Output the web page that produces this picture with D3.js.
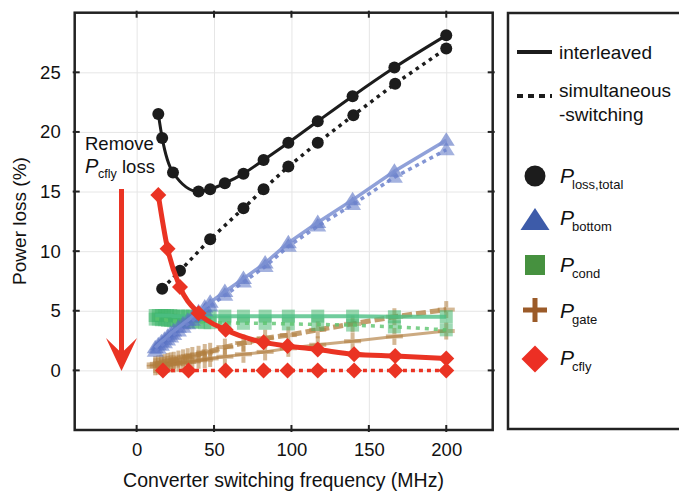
<!DOCTYPE html>
<html>
<head>
<meta charset="utf-8">
<script src="https://cdnjs.cloudflare.com/ajax/libs/d3/7.8.5/d3.min.js"></script>
<style>
  html, body { margin: 0; padding: 0; background: #fff; }
  svg { display: block; font-family: "Liberation Sans", Arial, sans-serif; }
</style>
</head>
<body>
<svg id="chart" width="679" height="491"></svg>
<script>
// ---------- data ----------
const xTicks = [0, 50, 100, 150, 200];
const yTicks = [0, 5, 10, 15, 20, 25];

const totalIntF = [14, 16.5, 23.5, 40, 47.5, 57, 69, 82, 98, 117, 139.5, 166.5, 200];
const totalIntP = [21.5, 19.5, 16.6, 15.0, 15.2, 15.7, 16.5, 17.65, 19.1, 20.9, 23.0, 25.4, 28.1];
const totalSimF = [16.5, 28, 47.5, 69, 82, 98, 117, 140, 167, 200];
const totalSimP = [6.85, 8.35, 11.0, 13.6, 15.2, 17.1, 19.1, 21.4, 24.05, 27.0];

const cflyIntF = [14, 20, 28, 40, 57.5, 82, 97.5, 117, 140.5, 167, 200];
const cflyIntP = [14.7, 10.2, 7.0, 4.8, 3.4, 2.35, 2.05, 1.75, 1.35, 1.2, 1.0];
const cflySimF = [17, 33.5, 57.5, 82, 97.5, 117, 140.5, 167, 200];
const cflySimP = [0, 0, 0, 0, 0, 0, 0, 0, 0];

const compF = [12, 14, 16, 18, 20, 22, 24, 27, 30, 33, 36, 40, 44, 47.5, 57, 69, 83, 98, 117, 139.5, 166.5, 200];
const bottomIntP = [1.9, 2.15, 2.4, 2.6, 2.85, 3.1, 3.3, 3.6, 3.9, 4.2, 4.5, 4.9, 5.3, 5.7, 6.6, 7.7, 9.0, 10.7, 12.4, 14.3, 16.7, 19.3];
const bottomSimP = [1.6, 1.85, 2.1, 2.3, 2.55, 2.8, 3.0, 3.3, 3.6, 3.9, 4.2, 4.6, 5.0, 5.4, 6.3, 7.4, 8.7, 10.4, 12.1, 13.9, 16.2, 18.5];
const condIntP = [4.6, 4.6, 4.6, 4.6, 4.6, 4.6, 4.55, 4.55, 4.55, 4.55, 4.55, 4.55, 4.55, 4.55, 4.55, 4.55, 4.55, 4.55, 4.55, 4.55, 4.5, 4.5];
const condSimP = [4.3, 4.3, 4.25, 4.25, 4.2, 4.2, 4.15, 4.15, 4.1, 4.1, 4.05, 4.05, 4.0, 4.0, 4.0, 3.95, 3.95, 3.9, 3.85, 3.8, 3.65, 3.4];
const gateSimP = [0.5, 0.55, 0.6, 0.65, 0.75, 0.8, 0.85, 0.95, 1.05, 1.15, 1.25, 1.35, 1.5, 1.6, 1.95, 2.3, 2.7, 2.96, 3.4, 3.9, 4.5, 5.1];
const gateIntP = [0.3, 0.35, 0.4, 0.45, 0.5, 0.55, 0.55, 0.6, 0.65, 0.7, 0.75, 0.85, 0.9, 1.0, 1.15, 1.35, 1.55, 1.85, 2.15, 2.45, 2.85, 3.3];

// ---------- layout ----------
const svg = d3.select("#chart");
const L = 74.7, R = 492.7, T = 12.7, B = 430;
const x = d3.scaleLinear().domain([-40, 230]).range([L, R]);
const y = d3.scaleLinear().domain([-5, 30]).range([B, T]);

const C = {
  black: "#1c1c1c",
  red: "#ea3323",
  blue: "#5a73c4",
  green: "#3fb66b",
  brown: "#b07d3e"
};

// grid
const grid = svg.append("g");
grid.append("g").attr("transform", `translate(0,${B})`)
  .call(d3.axisBottom(x).tickValues(xTicks).tickSize(-(B - T)).tickFormat(""))
  .call(g => g.select(".domain").remove())
  .call(g => g.selectAll("line").attr("stroke", "#e6e6e6").attr("stroke-width", 1));
grid.append("g").attr("transform", `translate(${L},0)`)
  .call(d3.axisLeft(y).tickValues(yTicks).tickSize(-(R - L)).tickFormat(""))
  .call(g => g.select(".domain").remove())
  .call(g => g.selectAll("line").attr("stroke", "#e6e6e6").attr("stroke-width", 1));

const plot = svg.append("g");
const zip = (fs, ps) => fs.map((f, i) => [f, ps[i]]);
const lineStraight = d3.line().x(d => x(d[0])).y(d => y(d[1]));
const lineSmooth = d3.line().x(d => x(d[0])).y(d => y(d[1])).curve(d3.curveMonotoneX);

function drawLine(data, opts) {
  plot.append("path").datum(data)
    .attr("d", opts.smooth ? lineSmooth : lineStraight)
    .attr("fill", "none")
    .attr("stroke", opts.color)
    .attr("stroke-width", opts.width)
    .attr("stroke-opacity", opts.opacity || 1)
    .attr("stroke-dasharray", opts.dash || null)
    .attr("stroke-linecap", "butt");
}

function drawMarkers(data, type, color, size, opacity) {
  const g = plot.append("g").attr("fill", color).attr("fill-opacity", opacity || 1);
  data.forEach(d => {
    const cx = x(d[0]), cy = y(d[1]);
    if (type === "circle") {
      g.append("circle").attr("cx", cx).attr("cy", cy).attr("r", size);
    } else if (type === "triangle") {
      const h = size * 0.9;
      g.append("path").attr("d", `M${cx},${cy - h * 0.6}L${cx + size / 2 + 1},${cy + h * 0.4}L${cx - size / 2 - 1},${cy + h * 0.4}Z`);
    } else if (type === "square") {
      g.append("rect").attr("x", cx - size / 2).attr("y", cy - size / 2).attr("width", size).attr("height", size);
    } else if (type === "diamond") {
      g.append("path").attr("d", `M${cx},${cy - size / 2}L${cx + size / 2},${cy}L${cx},${cy + size / 2}L${cx - size / 2},${cy}Z`);
    } else if (type === "plus") {
      const t = 4;
      g.append("rect").attr("x", cx - size / 2).attr("y", cy - t / 2).attr("width", size).attr("height", t);
      g.append("rect").attr("x", cx - t / 2).attr("y", cy - size / 2).attr("width", t).attr("height", size / 2 - t / 2);
      g.append("rect").attr("x", cx - t / 2).attr("y", cy + t / 2).attr("width", t).attr("height", size / 2 - t / 2);
    }
  });
}

// gate (brown)
drawMarkers(zip(compF, gateIntP), "plus", C.brown, 17, 0.55);
drawMarkers(zip(compF, gateSimP), "plus", C.brown, 17, 0.55);
drawLine(zip(compF, gateIntP), { color: C.brown, width: 3, opacity: 0.65 });
drawLine(zip(compF, gateSimP), { color: C.brown, width: 5, opacity: 0.75, dash: "10,4" });

// cond (green)
drawMarkers(zip(compF, condIntP), "square", C.green, 13, 0.55);
drawMarkers(zip(compF, condSimP), "square", C.green, 13, 0.5);
drawLine(zip(compF, condIntP), { color: "#4cbf85", width: 4, opacity: 0.8 });
drawLine(zip(compF, condSimP), { color: "#5cc46e", width: 3.5, opacity: 0.8, dash: "4,5" });

// bottom (blue)
drawMarkers(zip(compF, bottomIntP), "triangle", C.blue, 15, 0.62);
drawMarkers(zip(compF, bottomSimP), "triangle", C.blue, 15, 0.55);
drawLine(zip(compF, bottomIntP), { color: "#7d90d2", width: 3.5, opacity: 0.85 });
drawLine(zip(compF, bottomSimP), { color: "#6d82cc", width: 3.5, opacity: 0.85, dash: "4,4" });

// total (black)
drawLine(zip(totalIntF, totalIntP), { color: C.black, width: 3, smooth: true });
drawLine(zip(totalSimF, totalSimP), { color: C.black, width: 3.5, dash: "3.5,4.5" });
drawMarkers(zip(totalIntF, totalIntP), "circle", C.black, 6);
drawMarkers(zip(totalSimF, totalSimP), "circle", C.black, 6);

// cfly (red)
drawLine(zip(cflyIntF, cflyIntP), { color: C.red, width: 5, smooth: true });
drawLine(zip(cflySimF, cflySimP), { color: C.red, width: 3.5, dash: "4,4" });
drawMarkers(zip(cflyIntF, cflyIntP), "diamond", C.red, 16);
drawMarkers(zip(cflySimF, cflySimP), "diamond", C.red, 16);

// annotation
const ann = svg.append("g").attr("fill", "#111");
ann.append("text").attr("x", 85).attr("y", 150).attr("font-size", 18.5).text("Remove");
ann.append("text").attr("x", 85).attr("y", 173).attr("font-size", 20).attr("font-style", "italic").text("P");
ann.append("text").attr("x", 98).attr("y", 178).attr("font-size", 12.5).text("cfly");
ann.append("text").attr("x", 122).attr("y", 173).attr("font-size", 18.5).text("loss");
svg.append("line").attr("x1", 121.5).attr("x2", 121.5).attr("y1", 189).attr("y2", 356)
  .attr("stroke", C.red).attr("stroke-width", 5);
svg.append("path").attr("d", "M121.5,371L106,338L121.5,353L137,338Z").attr("fill", C.red);

// frame & ticks
svg.append("rect").attr("x", L).attr("y", T).attr("width", R - L).attr("height", B - T)
  .attr("fill", "none").attr("stroke", "#222").attr("stroke-width", 2.5);
const tk = svg.append("g").attr("stroke", "#222").attr("stroke-width", 2);
xTicks.forEach(v => {
  tk.append("line").attr("x1", x(v)).attr("x2", x(v)).attr("y1", B + 2).attr("y2", B - 5);
  tk.append("line").attr("x1", x(v)).attr("x2", x(v)).attr("y1", T - 2).attr("y2", T + 5);
});
yTicks.forEach(v => {
  tk.append("line").attr("x1", L - 2).attr("x2", L + 5).attr("y1", y(v)).attr("y2", y(v));
  tk.append("line").attr("x1", R + 2).attr("x2", R - 5).attr("y1", y(v)).attr("y2", y(v));
});

// tick labels via axes
svg.append("g").attr("transform", `translate(0,${B})`)
  .call(d3.axisBottom(x).tickValues(xTicks).tickSize(0).tickPadding(13))
  .call(g => g.select(".domain").remove())
  .call(g => g.selectAll("text").attr("font-size", 18.5).attr("fill", "#111")
    .attr("font-family", "Liberation Sans, Arial, sans-serif"));
svg.append("g").attr("transform", `translate(${L},0)`)
  .call(d3.axisLeft(y).tickValues(yTicks).tickSize(0).tickPadding(14))
  .call(g => g.select(".domain").remove())
  .call(g => g.selectAll("text").attr("font-size", 18.5).attr("fill", "#111")
    .attr("font-family", "Liberation Sans, Arial, sans-serif"));

// axis titles
svg.append("text").attr("x", 283.5).attr("y", 487).attr("text-anchor", "middle")
  .attr("font-size", 19.5).attr("fill", "#111").text("Converter switching frequency (MHz)");
svg.append("text").attr("transform", `translate(25.5,221) rotate(-90)`)
  .attr("text-anchor", "middle").attr("font-size", 19).attr("fill", "#111").text("Power loss (%)");

// legend
const lg = svg.append("g");
lg.append("rect").attr("x", 508).attr("y", 13).attr("width", 200).attr("height", 416)
  .attr("fill", "#fff").attr("stroke", "#222").attr("stroke-width", 2.5);
lg.append("line").attr("x1", 517).attr("x2", 552).attr("y1", 52).attr("y2", 52)
  .attr("stroke", C.black).attr("stroke-width", 4);
lg.append("text").attr("x", 559).attr("y", 59).attr("font-size", 19).attr("fill", "#111").text("interleaved");
lg.append("line").attr("x1", 517).attr("x2", 552).attr("y1", 96).attr("y2", 96)
  .attr("stroke", C.black).attr("stroke-width", 4).attr("stroke-dasharray", "6,5");
lg.append("text").attr("x", 559).attr("y", 97).attr("font-size", 19).attr("fill", "#111").text("simultaneous");
lg.append("text").attr("x", 559).attr("y", 121).attr("font-size", 19).attr("fill", "#111").text("-switching");

const legendItems = [
  { name: "loss,total", type: "circle", color: "#1c1c1c", cy: 176, base: 183 },
  { name: "bottom", type: "triangle", color: "#3d5ba9", cy: 219, base: 225 },
  { name: "cond", type: "square", color: "#46913f", cy: 265, base: 272 },
  { name: "gate", type: "plus", color: "#9b5b29", cy: 310, base: 318 },
  { name: "cfly", type: "diamond", color: "#ec2f24", cy: 359, base: 365 }
];
legendItems.forEach(it => {
  const cx = 535, cy = it.cy;
  if (it.type === "circle") lg.append("circle").attr("cx", cx).attr("cy", cy).attr("r", 10.5).attr("fill", it.color);
  if (it.type === "triangle") lg.append("path").attr("d", `M${cx},${cy - 11}L${cx + 14.5},${cy + 11}L${cx - 14.5},${cy + 11}Z`).attr("fill", it.color);
  if (it.type === "square") lg.append("rect").attr("x", cx - 10).attr("y", cy - 10).attr("width", 20).attr("height", 20).attr("fill", it.color);
  if (it.type === "plus") {
    lg.append("rect").attr("x", cx - 12).attr("y", cy - 2.5).attr("width", 24).attr("height", 5).attr("fill", it.color);
    lg.append("rect").attr("x", cx - 2.5).attr("y", cy - 12).attr("width", 5).attr("height", 24).attr("fill", it.color);
  }
  if (it.type === "diamond") lg.append("path").attr("d", `M${cx},${cy - 13.5}L${cx + 13.5},${cy}L${cx},${cy + 13.5}L${cx - 13.5},${cy}Z`).attr("fill", it.color);
  lg.append("text").attr("x", 560).attr("y", it.base).attr("font-size", 21).attr("font-style", "italic").attr("fill", "#111").text("P");
  lg.append("text").attr("x", 572).attr("y", it.base + 6).attr("font-size", 13).attr("fill", "#111").text(it.name);
});
</script>
</body>
</html>
